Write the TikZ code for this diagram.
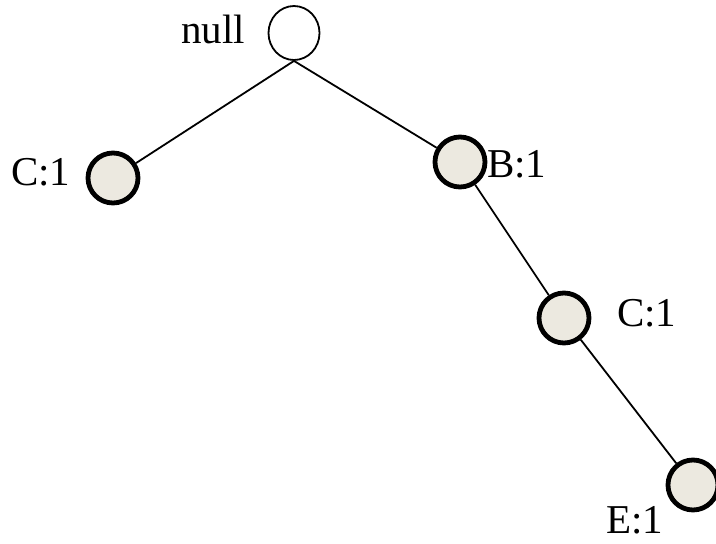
\documentclass[tikz,border=0pt]{standalone}
\usepackage{fontspec}
\setmainfont{Liberation Serif}
\usetikzlibrary{shapes.geometric}
\definecolor{nodefill}{RGB}{236,233,224}
\begin{document}
\begin{tikzpicture}[x=1pt,y=-1pt,
  item/.style={circle,draw=black,line width=4.8pt,fill=nodefill,minimum size=50pt,inner sep=0pt},
  rootnode/.style={ellipse,draw=black,line width=1.8pt,fill=white,minimum width=51pt,minimum height=54pt,inner sep=0pt},
  lbl/.style={anchor=base west,inner sep=0pt,font=\fontsize{41}{46}\selectfont},
  edge/.style={line width=1.8pt}]
\useasboundingbox (0,0) rectangle (716,544);
\node[rootnode] (root) at (294,33) {};
\node[item] (c1) at (113,178) {};
\node[item] (b1) at (460,162) {};
\node[item] (c2) at (564,318) {};
\node[item] (e1) at (693,485) {};
\node[lbl] (lnull) at (181,43) {null};
\node[lbl] (lc1) at (11,185) {C:1};
\node[lbl] (lb1) at (487,177) {B:1};
\node[lbl] (lc2) at (617,326) {C:1};
\node[lbl] (le1) at (606,533) {E:1};
\draw[edge] (root.south) -- (c1);
\draw[edge] (root.south) -- (b1);
\draw[edge] (b1) -- (c2);
\draw[edge] (c2) -- (e1);
\end{tikzpicture}
\end{document}
